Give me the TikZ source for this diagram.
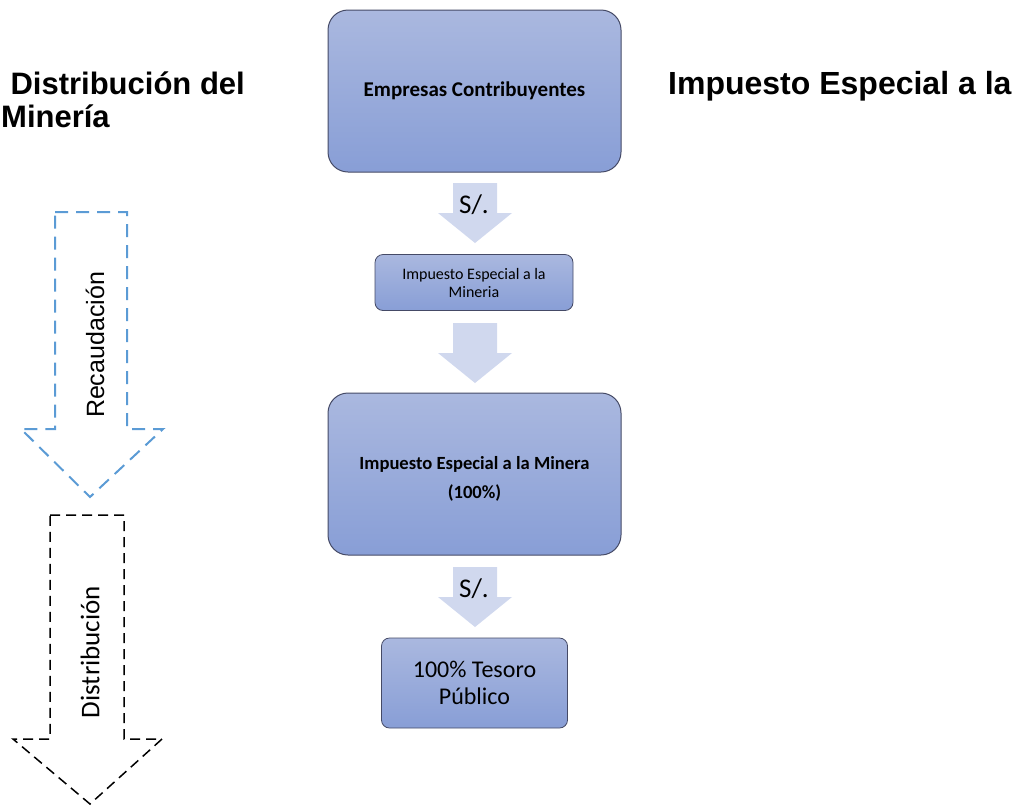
\documentclass[tikz,border=0pt]{standalone}
\usepackage{fontspec}
\setmainfont{Carlito}
\newfontfamily\arialfont{Liberation Sans}
\usetikzlibrary{positioning}

\definecolor{boxtop}{HTML}{AAB8DF}
\definecolor{boxbot}{HTML}{889ED6}
\definecolor{boxline}{HTML}{454A66}
\definecolor{arrowfill}{HTML}{D0D8EE}
\definecolor{dashblue}{HTML}{5B9BD5}

\begin{document}
\begin{tikzpicture}
[x=1pt,y=-1pt,
bigbox/.style={draw=boxline,line width=1pt,rounded corners=20pt,top color=boxtop,bottom color=boxbot,minimum width=293pt,minimum height=162pt,inner sep=0pt,align=center},
smallbox/.style={draw=boxline,line width=0.8pt,rounded corners=8pt,top color=boxtop,bottom color=boxbot,inner sep=0pt,align=center},
title/.style={font=\arialfont\bfseries\fontsize{31}{35}\selectfont,inner sep=0pt},
flowarrow/.pic={\fill[arrowfill] (-22,0) -- (22,0) -- (22,30) -- (37,30) -- (0,60) -- (-37,30) -- (-22,30) -- cycle;}]
\useasboundingbox (0,0) rectangle (1022,807);

% titles
\node[title,anchor=base east] (t1) at (245,94) {Distribución del};
\node[title,anchor=base west] (t2) at (1,127) {Minería};
\node[title,anchor=base west,font=\arialfont\bfseries\fontsize{32}{36}\selectfont] (t3) at (668,94) {Impuesto Especial a la};

% flow boxes
\node[bigbox,font=\bfseries\fontsize{21}{25}\selectfont] (emp) at (474.5,91) {Empresas Contribuyentes};
\node[smallbox,minimum width=198pt,minimum height=56pt,font=\fontsize{16}{18}\selectfont] (iem) at (474,282.5) {Impuesto Especial a la\\Mineria};
\node[bigbox,font=\bfseries\fontsize{18.6}{29}\selectfont] (iemt) at (474.5,474) {\rule{0pt}{22pt}Impuesto Especial a la Minera\\(100\%)};
\node[smallbox,minimum width=186pt,minimum height=90pt,font=\fontsize{24}{27}\selectfont] (tes) at (474.5,683) {100\% Tesoro\\Público};

% block arrows
\pic at (475,183) {flowarrow};
\pic at (475,323) {flowarrow};
\pic at (475,567) {flowarrow};
\node[font=\fontsize{27}{30}\selectfont] (s1) at (474,205) {S/.};
\node[font=\fontsize{27}{30}\selectfont] (s2) at (474,589) {S/.};

% side arrows
\draw[dashblue,line width=2pt,dash pattern=on 13pt off 8pt]
  (55,212) -- (127,212) -- (127,429) -- (163,429) -- (90,497) -- (21,429) -- (55,429) -- cycle;
\draw[black,line width=1.5pt,dash pattern=on 10pt off 6pt]
  (50,515) -- (124,515) -- (124,739) -- (162,739) -- (90,804) -- (13,739) -- (50,739) -- cycle;
\node[rotate=90,font=\arialfont\fontsize{25}{28}\selectfont] (rec) at (95,345) {Recaudación};
\node[rotate=90,font=\fontsize{27}{30}\selectfont] (dis) at (90,652) {Distribución};
\end{tikzpicture}
\end{document}
